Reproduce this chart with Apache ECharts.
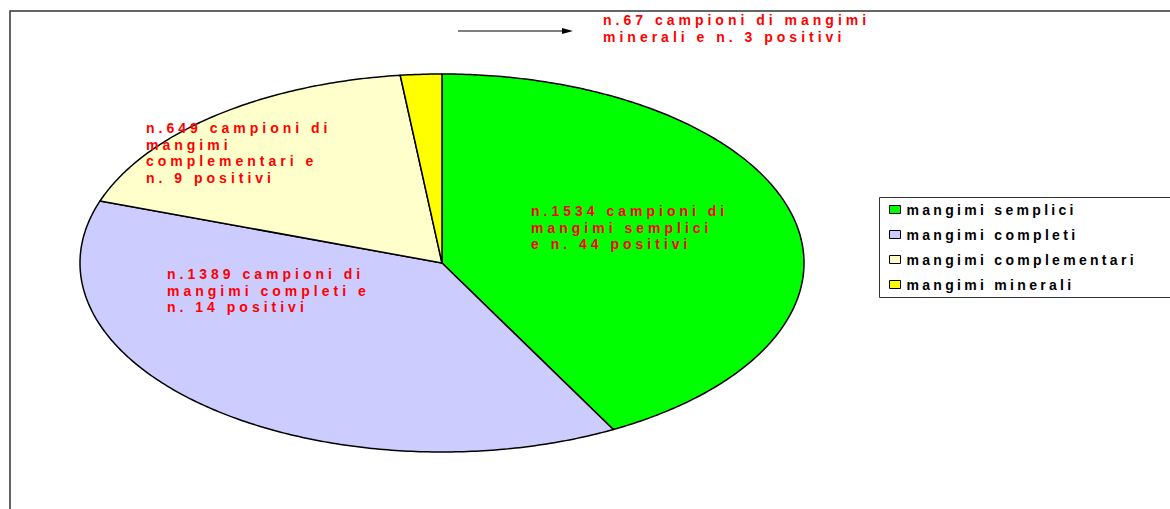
<!DOCTYPE html>
<html>
<head>
<meta charset="utf-8">
<script src="https://cdn.jsdelivr.net/npm/echarts@6/dist/echarts.min.js"></script>
<style>
  html, body { margin: 0; padding: 0; background: #fff; }
  #chart { width: 1170px; height: 509px; }
  #chart svg text { letter-spacing: 3.3px; }
  #chart svg text[style*="Arial"] { letter-spacing: 4px; }
</style>
</head>
<body>
<div id="chart"></div>
<script>
// dati del grafico
const categories = ['mangimi semplici', 'mangimi completi', 'mangimi complementari', 'mangimi minerali']
const campioni = [1534, 1389, 649, 67]
const positivi = [44, 14, 9, 3]
const colors = ['#00FF00', '#CCCCFF', '#FFFFCC', '#FFFF00']
const labels = [
  'n.1534 campioni di\nmangimi semplici\ne n. 44 positivi',
  'n.1389 campioni di\nmangimi completi e\nn. 14 positivi',
  'n.649 campioni di\nmangimi\ncomplementari e\nn. 9 positivi',
  'n.67 campioni di mangimi\nminerali e n. 3 positivi'
]

// layout (pixel)
const CX = 442, CY = 263, RX = 362, RY = 189
const labelPos = [[531, 203], [167, 266], [146, 120], [603, 12]]
const labelFont = 'bold 14px Arial, "Liberation Sans", sans-serif'

const total = campioni.reduce((a, b) => a + b, 0)
const starts = []
campioni.reduce((acc, v, i) => { starts[i] = acc; return acc + v }, 0)

const chart = echarts.init(document.getElementById('chart'), null, { renderer: 'svg' })

const makeSeries = (name, i) => ({
  name,
  type: 'custom',
  coordinateSystem: 'none',
  itemStyle: { color: colors[i] },
  data: [[campioni[i], positivi[i]]],
  z: 2,
  renderItem: (params, api) => {
    const a0 = starts[i] / total * Math.PI * 2
    const a1 = (starts[i] + api.value(0)) / total * Math.PI * 2
    const steps = Math.max(8, Math.ceil((a1 - a0) * 90))
    const pts = [[CX, CY]]
    for (let k = 0; k <= steps; k++) {
      const a = a0 + (a1 - a0) * k / steps
      pts.push([CX + RX * Math.sin(a), CY - RY * Math.cos(a)])
    }
    return {
      type: 'group',
      children: [
        {
          type: 'polygon',
          shape: { points: pts },
          style: { fill: colors[i], stroke: '#000', lineWidth: 1.5, lineJoin: 'round' }
        },
        {
          type: 'text',
          x: labelPos[i][0],
          y: labelPos[i][1],
          z2: 10,
          style: {
            text: labels[i],
            fill: '#FF0000',
            font: labelFont,
            lineHeight: 16.5,
            align: 'left',
            verticalAlign: 'top'
          }
        }
      ]
    }
  }
})

const option = {
  animation: false,
  backgroundColor: '#fff',
  legend: {
    orient: 'vertical',
    left: 889,
    top: 201,
    padding: 0,
    itemGap: 8,
    itemWidth: 11,
    itemHeight: 8,
    icon: 'rect',
    itemStyle: { borderColor: '#000', borderWidth: 1 },
    textStyle: {
      color: '#000',
      fontFamily: '"Liberation Sans", sans-serif',
      fontWeight: 'bold',
      fontSize: 14,
      lineHeight: 17,
      padding: [0, 0, 0, 1]
    },
    data: categories
  },
  graphic: [
    {
      type: 'rect',
      shape: { x: 10, y: 11, width: 1300, height: 700 },
      style: { fill: 'none', stroke: '#333', lineWidth: 1.5 },
      silent: true
    },
    {
      type: 'rect',
      shape: { x: 879.5, y: 197.5, width: 400, height: 100 },
      style: { fill: 'none', stroke: '#333', lineWidth: 1 },
      silent: true
    },
    {
      type: 'line',
      shape: { x1: 458, y1: 31, x2: 565, y2: 31 },
      style: { stroke: '#000', lineWidth: 1 }
    },
    {
      type: 'polygon',
      shape: { points: [[573, 31], [562, 28], [562, 34]] },
      style: { fill: '#000' }
    }
  ],
  series: categories.map(makeSeries)
}

chart.setOption(option)
</script>
</body>
</html>
